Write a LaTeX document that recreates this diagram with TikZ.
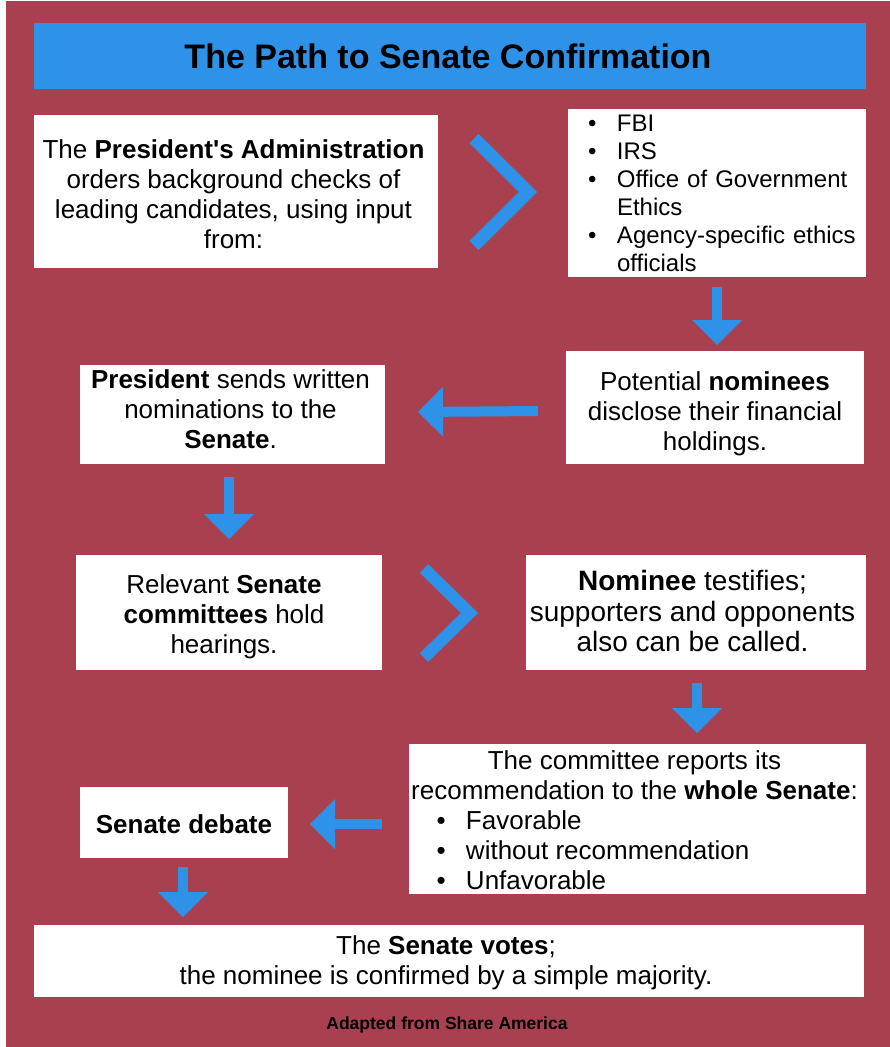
\documentclass[tikz,border=0pt]{standalone}
\usepackage{fontspec}
\setmainfont{Liberation Sans}
\newfontfamily\aposfont{Liberation Sans}
\usetikzlibrary{arrows.meta}
\definecolor{maroonbg}{RGB}{168,64,79}
\definecolor{skyblue}{RGB}{46,147,232}
\newcommand{\bulA}{\hspace*{10pt}\makebox[29pt][l]{\textbullet}}
\newcommand{\indA}{\hspace*{39pt}}
\newcommand{\bitemB}[1]{\makebox[457pt][l]{\hspace*{27.5pt}\makebox[29.5pt][l]{\textbullet}#1}}
\newcommand{\tbx}[3]{\kern#1\raisebox{#2}[\height][\depth]{\begin{tabular}{@{}c@{}}#3\end{tabular}}\kern-#1}
\begin{document}
\begin{tikzpicture}[x=1pt,y=-1pt,
  box/.style={fill=white, draw=none, inner sep=0pt, align=center, font=\fontsize{26}{30}\selectfont},
  blockarrow/.style={draw=skyblue, line width=10pt, -{Triangle[length=25pt,width=50pt,line width=0pt]}},
  chevron/.style={draw=skyblue, line join=miter, line cap=butt},
]
\useasboundingbox (0,0) rectangle (890,1047);
\fill[white] (0,0) rectangle (890,1047);
\fill[maroonbg] (6,1) rectangle (890,1047);
\node[fill=skyblue, minimum width=832pt, minimum height=66pt, inner sep=0pt, font=\fontsize{34}{40}\selectfont\bfseries] (title) at (450,56) {\kern-2pt The Path to Senate Confirmation\kern2pt};
\node[box, minimum width=404pt, minimum height=153pt] (b1) at (236,191.5) {\tbx{-2.5pt}{-5.5pt}{The \textbf{President{\aposfont'}s Administration}\\orders background checks of\\leading candidates, using input\\from:}};
\node[box, minimum width=298pt, minimum height=168pt, text width=278pt, inner xsep=10pt, align=left, font=\fontsize{24}{28}\selectfont] (b2) at (717,193) {\bulA FBI\\\bulA IRS\\\bulA Office of Government\\\indA Ethics\\\bulA Agency-specific ethics\\\indA officials};
\node[box, minimum width=298pt, minimum height=113pt] (b3) at (715,407.5) {\tbx{0pt}{-6.5pt}{Potential \textbf{nominees}\\disclose their financial\\holdings.}};
\node[box, minimum width=305pt, minimum height=99pt] (b4) at (232.5,414.5) {\tbx{-2pt}{2.5pt}{\textbf{President} sends written\\nominations to the\\\textbf{Senate}.}};
\node[box, minimum width=306pt, minimum height=115pt] (b5) at (229,612.5) {\tbx{-5pt}{-4.5pt}{Relevant \textbf{Senate}\\\textbf{committees} hold\\hearings.}};
\node[box, minimum width=340pt, minimum height=115pt, font=\fontsize{28}{30.5}\selectfont] (b6) at (696,612.5) {\tbx{-3.5pt}{-2.5pt}{\textbf{Nominee} testifies;\\supporters and opponents\\also can be called.}};
\node[box, minimum width=457pt, minimum height=149pt] (b7) at (637.5,818.5) {\raisebox{-5pt}[\height][\depth]{\begin{tabular}{@{}l@{}}\makebox[457pt][c]{\kern-3pt The committee reports its\kern3pt}\\\makebox[457pt][c]{\kern-3pt recommendation to the \textbf{whole Senate}:\kern3pt}\\\bitemB{Favorable}\\\bitemB{without recommendation}\\\bitemB{Unfavorable}\end{tabular}}};
\node[box, minimum width=208pt, minimum height=71pt] (b8) at (184,822.5) {\raisebox{-2pt}[\height][\depth]{\textbf{Senate debate}}};
\node[box, minimum width=830pt, minimum height=72pt] (b9) at (449,961) {\tbx{-3pt}{-2.5pt}{The \textbf{Senate votes};\\the nominee is confirmed by a simple majority.}};
\node[font=\fontsize{17.5}{20}\selectfont\bfseries] (src) at (447,1025) {Adapted from Share America};
% chevrons
\coordinate (c1a) at (474,138.5); \coordinate (c1b) at (528,192); \coordinate (c1c) at (474,245.5);
\draw[chevron, line width=13pt] (c1a) -- (c1b) -- (c1c);
\coordinate (c2a) at (424,568.5); \coordinate (c2b) at (469.5,613); \coordinate (c2c) at (424,657.5);
\draw[chevron, line width=12pt] (c2a) -- (c2b) -- (c2c);
% block arrows
\coordinate (a1s) at (717,287); \coordinate (a1e) at (717,345);
\draw[blockarrow] (a1s) -- (a1e);
\coordinate (l1s) at (538,411); \coordinate (l1e) at (418,412);
\draw[blockarrow] (l1s) -- (l1e);
\coordinate (a2s) at (229,477); \coordinate (a2e) at (229,539);
\draw[blockarrow] (a2s) -- (a2e);
\coordinate (a3s) at (697,683); \coordinate (a3e) at (697,733);
\draw[blockarrow] (a3s) -- (a3e);
\coordinate (l2s) at (382,824); \coordinate (l2e) at (310,824);
\draw[blockarrow] (l2s) -- (l2e);
\coordinate (a4s) at (183,867); \coordinate (a4e) at (183,917);
\draw[blockarrow] (a4s) -- (a4e);
\end{tikzpicture}
\end{document}
